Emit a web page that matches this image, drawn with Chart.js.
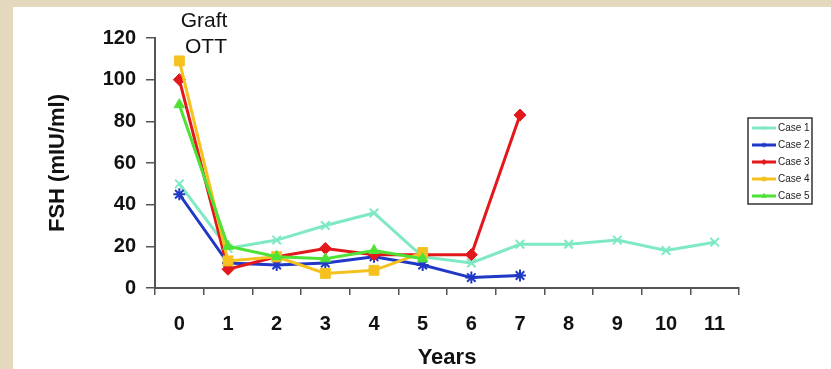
<!DOCTYPE html>
<html>
<head>
<meta charset="utf-8">
<style>
  html, body { margin: 0; padding: 0; background: #ffffff; }
  #wrap { width: 831px; height: 369px; position: relative; }
</style>
<script src="https://cdn.jsdelivr.net/npm/chart.js@4.4.1/dist/chart.umd.min.js"></script>
</head>
<body>
<div id="wrap"><canvas id="c" width="831" height="369"></canvas></div>
<script>
// ---- data ----
const years = ['0', '1', '2', '3', '4', '5', '6', '7', '8', '9', '10', '11'];
const case1 = [50, 19, 23, 30, 36, 15, 12, 21, 21, 23, 18, 22];
const case2 = [45, 12, 11, 12, 15, 11, 5, 6];
const case3 = [100, 9, 15, 19, 16, 16, 16, 83];
const case4 = [109, 13, 15, 7, 8.5, 17];
const case5 = [88, 20, 15, 14, 18, 14];
const seriesNames = ['Case 1', 'Case 2', 'Case 3', 'Case 4', 'Case 5'];
const yTicks = [0, 20, 40, 60, 80, 100, 120];
const annotationLines = ['Graft', 'OTT'];

const colors = ['#7ee9c2', '#1f38c6', '#e3181c', '#f4c11f', '#4fe236'];
const styles = ['crossRot', 'star', 'rectRot', 'rect', 'triangle'];
const radii = [6, 6, 6, 7, 6];
const values = [case1, case2, case3, case4, case5];

const FONT = '"Liberation Sans", Arial, Helvetica, sans-serif';

const datasets = values.map((v, i) => ({
  label: seriesNames[i],
  data: v,
  borderColor: colors[i],
  backgroundColor: colors[i],
  pointBackgroundColor: colors[i],
  pointBorderColor: colors[i],
  pointStyle: styles[i],
  pointRadius: radii[i],
  pointBorderWidth: (styles[i] === 'crossRot' || styles[i] === 'star') ? 2 : 1,
  borderWidth: 3,
  tension: 0,
  order: 5 - i
}));

const bgPlugin = {
  id: 'bg',
  beforeDraw(chart) {
    const ctx = chart.ctx;
    ctx.save();
    ctx.fillStyle = '#e4d8bd';
    ctx.fillRect(0, 0, chart.width, chart.height);
    ctx.fillStyle = '#ffffff';
    ctx.fillRect(13, 7, chart.width - 13, chart.height - 7);
    ctx.restore();
  }
};

const annotPlugin = {
  id: 'annot',
  afterDraw(chart) {
    const ctx = chart.ctx;
    ctx.save();
    ctx.fillStyle = '#111111';
    ctx.font = '21px ' + FONT;
    ctx.textAlign = 'center';
    ctx.textBaseline = 'alphabetic';
    ctx.fillText(annotationLines[0], 204, 27);
    ctx.fillText(annotationLines[1], 206, 53);
    ctx.restore();
  }
};

const legendPlugin = {
  id: 'boxLegend',
  afterDraw(chart) {
    const ctx = chart.ctx;
    const bx = 748, by = 118, bw = 64, bh = 86;
    ctx.save();
    ctx.fillStyle = '#ffffff';
    ctx.fillRect(bx, by, bw, bh);
    ctx.strokeStyle = '#333333';
    ctx.lineWidth = 1.5;
    ctx.strokeRect(bx, by, bw, bh);
    chart.data.datasets.forEach((ds, i) => {
      const y = 128 + i * 17;
      ctx.strokeStyle = ds.borderColor;
      ctx.lineWidth = 3;
      ctx.beginPath();
      ctx.moveTo(752, y);
      ctx.lineTo(776, y);
      ctx.stroke();
      ctx.fillStyle = ds.borderColor;
      ctx.lineWidth = 1;
      Chart.helpers.drawPoint(ctx, { pointStyle: ds.pointStyle, radius: 2.5, borderWidth: 1, rotation: 0 }, 764, y);
      ctx.fillStyle = '#222222';
      ctx.font = '10px ' + FONT;
      ctx.textAlign = 'left';
      ctx.textBaseline = 'middle';
      ctx.fillText(ds.label, 778, y + 0.5);
    });
    ctx.restore();
  }
};

new Chart(document.getElementById('c'), {
  type: 'line',
  data: { labels: years, datasets },
  plugins: [bgPlugin, annotPlugin, legendPlugin],
  options: {
    responsive: false,
    animation: false,
    devicePixelRatio: 1,
    layout: { padding: { left: 13, top: 38, right: 92, bottom: 0 } },
    plugins: { legend: { display: false }, tooltip: { enabled: false } },
    scales: {
      x: {
        type: 'category',
        offset: true,
        afterFit(scale) { scale.height = 81; },
        grid: { display: true, drawOnChartArea: false, drawTicks: true, tickLength: 7, color: '#555555', lineWidth: 1.5, offset: true },
        border: { display: true, color: '#555555', width: 2 },
        ticks: { color: '#111111', font: { family: FONT, size: 20, weight: 'bold' }, padding: 17, maxRotation: 0, autoSkip: false },
        title: { display: true, text: 'Years', color: '#111111', font: { family: FONT, size: 22, weight: 'bold', lineHeight: 1 }, padding: { top: 0, bottom: 0 } }
      },
      y: {
        min: 0, max: 120,
        afterFit(scale) { scale.width = 155 - 13; },
        afterBuildTicks(scale) { scale.ticks = yTicks.map(v => ({ value: v })); },
        grid: { display: true, drawOnChartArea: false, drawTicks: true, tickLength: 9, color: '#555555', lineWidth: 1.5 },
        border: { display: true, color: '#555555', width: 2 },
        ticks: { color: '#111111', font: { family: FONT, size: 20, weight: 'bold' }, padding: 10 },
        title: { display: true, text: 'FSH (mIU/ml)', color: '#111111', font: { family: FONT, size: 22, weight: 'bold', lineHeight: 1.2 }, padding: { top: 32, bottom: 0 } }
      }
    }
  }
});
</script>
</body>
</html>
